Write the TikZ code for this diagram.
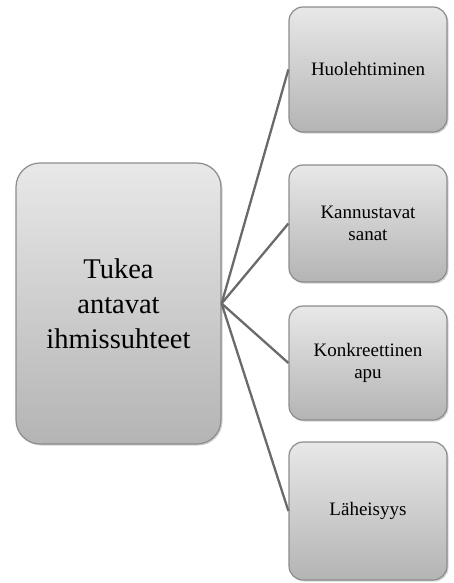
\documentclass[tikz,border=0pt]{standalone}
\usepackage{fontspec}
\setmainfont{Liberation Serif}
\usetikzlibrary{shadows,positioning}
\definecolor{boxtop}{HTML}{E8E8E8}
\definecolor{boxbot}{HTML}{B4B4B4}
\definecolor{boxline}{HTML}{8C8C8C}
\definecolor{linkline}{HTML}{6A6A6A}

\begin{document}
\begin{tikzpicture}[x=1pt, y=-1pt, semithick,
  box/.style={draw=boxline, line width=1.2pt, rounded corners=14pt,
    top color=boxtop, bottom color=boxbot, align=center,
    drop shadow={shadow xshift=1.5pt, shadow yshift=-1.5pt, opacity=0.35},
    minimum width=158pt, font=\fontsize{19}{22}\selectfont},
  link/.style={draw=linkline, line width=2.3pt}]
\useasboundingbox (0,0) rectangle (454,583);
\node[box, rounded corners=24pt, minimum width=205pt, minimum height=281pt,
  font=\fontsize{28.5}{35}\selectfont] (T) at (118.5,303.5) {Tukea\\antavat\\ihmissuhteet};
\node[box, minimum height=125pt] (H) at (368,69.5) {Huolehtiminen};
\node[box, minimum height=117pt] (K) at (368,223.5) {Kannustavat\\sanat};
\node[box, minimum height=114pt] (A) at (368,363) {Konkreettinen\\apu};
\node[box, minimum height=138pt] (L) at (368,511) {Läheisyys};
\path[link] (T.east) edge (H.west);
\path[link] (T.east) edge (K.west);
\path[link] (T.east) edge (A.west);
\path[link] (T.east) edge (L.west);
\end{tikzpicture}
\end{document}
